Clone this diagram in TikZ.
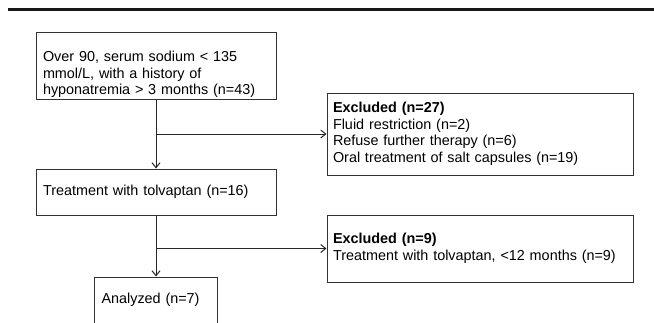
\documentclass[tikz,border=0pt]{standalone}
\usepackage{fontspec}
\setmainfont{Liberation Sans}
\usetikzlibrary{arrows.meta}
\usetikzlibrary{positioning}

\begin{document}
\begin{tikzpicture}
[x=1pt,y=-1pt,on grid,>={Straight Barb[length=5pt,width=8pt]},
  every node/.style={font=\fontsize{14.4}{16.5}\selectfont},
  flowbox/.style={draw=black!80,line width=1pt,align=left,inner xsep=7pt,
    minimum height=46pt},
  exclbox/.style={flowbox,inner xsep=6pt,text width=294pt},
  link/.style={->,draw=black!85,line width=1pt}]
\useasboundingbox (0,0) rectangle (654,322);
%% top rule
\draw[black!90,line width=3pt] (8,9.5) -- (654,9.5);
%% boxes
\node[flowbox,text width=226pt,minimum height=67pt,inner ysep=0pt] (screen) at (156,65.5)
  {\rule{0pt}{28pt}Over 90, serum sodium < 135\\mmol/L, with a history of\\hyponatremia > 3 months (n=43)};
\node[flowbox,text width=226pt] (treat) [below=126.5pt of screen]
  {Treatment with tolvaptan (n=16)};
\node[flowbox,text width=109pt] (analyzed) [below=108pt of treat]
  {Analyzed (n=7)};
\node[exclbox,minimum height=82pt] (excl1) [below right=68.5pt and 324pt of screen]
  {\textbf{Excluded (n=27)}\\Fluid restriction (n=2)\\Refuse further therapy (n=6)\\Oral treatment of salt capsules (n=19)};
\node[exclbox,minimum height=67pt] (excl2) [below right=56.5pt and 324pt of treat]
  {\textbf{Excluded (n=9)}\\Treatment with tolvaptan, <12 months (n=9)};
%% branch points
\coordinate (b1) at (screen.south |- excl1.west);
\coordinate (b2) at (treat.south |- excl2.west);
%% connectors
\draw[link] (screen) -- (treat);
\draw[link] (b1) -- (excl1);
\draw[link] (treat) -- (analyzed);
\draw[link] (b2) -- (excl2);
\end{tikzpicture}
\end{document}
